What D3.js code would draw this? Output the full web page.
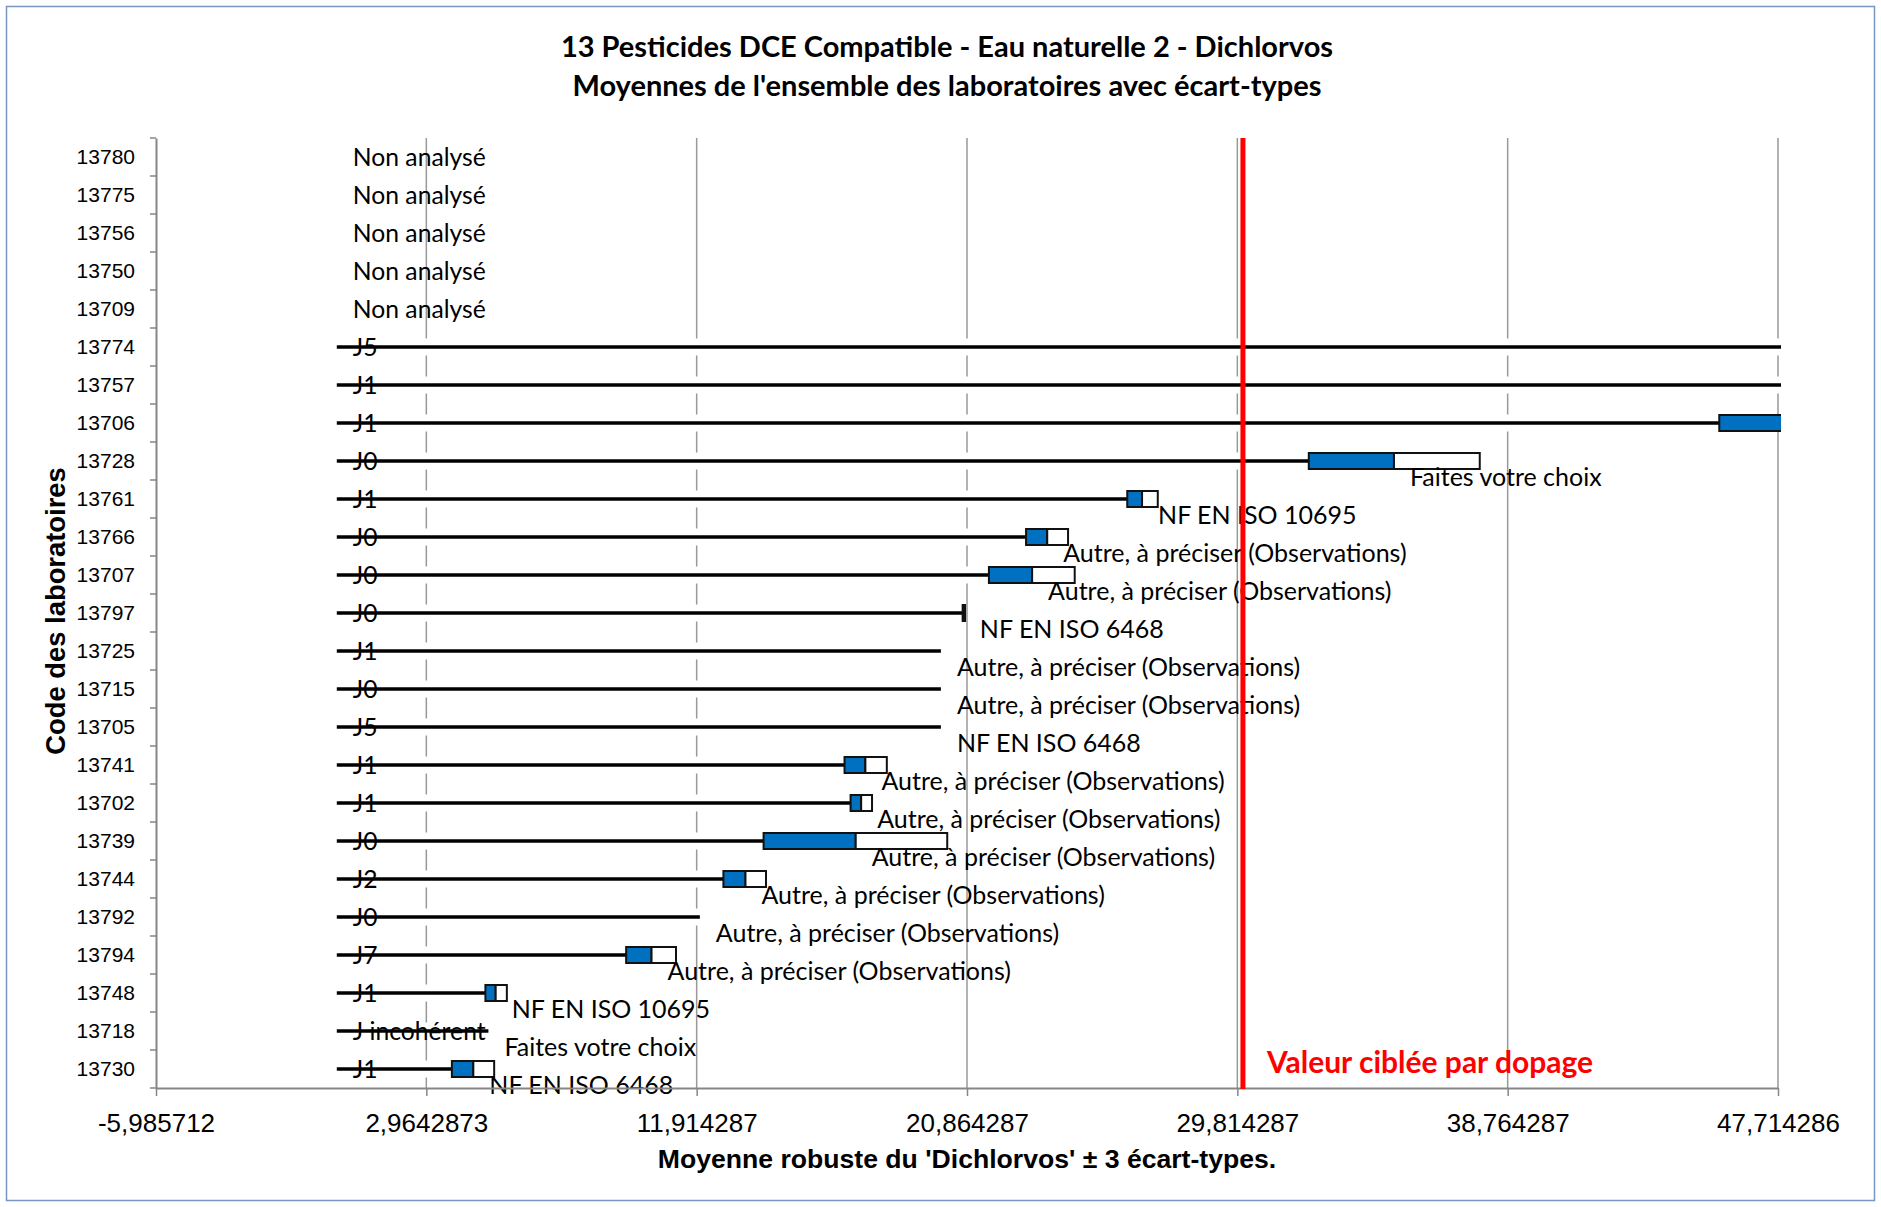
<!DOCTYPE html>
<html>
<head>
<meta charset="utf-8">
<script src="https://cdn.jsdelivr.net/npm/d3@7"></script>
<style>
  html, body { margin: 0; padding: 0; background: #fff; }
  svg { display: block; }
</style>
</head>
<body>
<svg id="chart" width="1881" height="1207"></svg>
<script>
// Laboratory codes, top to bottom
const labs = ["13780","13775","13756","13750","13709","13774","13757","13706","13728","13761",
  "13766","13707","13797","13725","13715","13705","13741","13702","13739","13744",
  "13792","13794","13748","13718","13730"];

// Status flag written at the start of each row
const flags = ["Non analysé","Non analysé","Non analysé","Non analysé","Non analysé",
  "J5","J1","J1","J0","J1","J0","J0","J0","J1","J0","J5","J1","J1","J0","J2",
  "J0","J7","J1","J incohérent","J1"];

// Analytical method declared by each laboratory
const methods = ["","","","","","","","",
  "Faites votre choix","NF EN ISO 10695",
  "Autre, à préciser (Observations)","Autre, à préciser (Observations)",
  "NF EN ISO 6468","Autre, à préciser (Observations)","Autre, à préciser (Observations)",
  "NF EN ISO 6468","Autre, à préciser (Observations)","Autre, à préciser (Observations)",
  "Autre, à préciser (Observations)","Autre, à préciser (Observations)",
  "Autre, à préciser (Observations)","Autre, à préciser (Observations)",
  "NF EN ISO 10695","Faites votre choix","NF EN ISO 6468"];

// Lower bound, mean and upper bound per laboratory (null = not analysed)
const lows  = [null,null,null,null,null, 60.2,54.9,45.77,32.18,26.17,22.82,21.59,20.72,20.0,20.0,20.0,
  16.81,17.01,14.13,12.80,12.02,9.58,4.92,5.02,3.81];
const means = [null,null,null,null,null, 60.2,54.9,49.60,35.00,26.66,23.52,23.02,20.76,20.0,20.0,20.0,
  17.50,17.36,17.18,13.53,12.02,10.42,5.26,5.02,4.52];
const highs = [null,null,null,null,null, 60.2,54.9,53.40,37.84,27.18,24.21,24.43,20.80,20.0,20.0,20.0,
  18.21,17.72,20.21,14.21,12.02,11.23,5.63,5.02,5.21];

// Axis ticks
const xTickValues = [-5.985712, 2.9642873, 11.914287, 20.864287, 29.814287, 38.764287, 47.714286];
const xTickLabels = ["-5,985712","2,9642873","11,914287","20,864287","29,814287","38,764287","47,714286"];

// Spiked (target) value and start of the range lines
const targetValue = 30;
const lineOrigin = 0;

const rows = labs.map((lab, i) => ({
  lab, flag: flags[i], method: methods[i], low: lows[i], mean: means[i], high: highs[i]
}));

const svg = d3.select("#chart");
const W = 1881, H = 1207;
const plot = { left: 156, right: 1778, top: 138, bottom: 1088 };

const CAL = "Lato, 'Open Sans', sans-serif";
const ARIAL = "'Liberation Sans', Arial, sans-serif";

// Chart frame
svg.append("rect")
  .attr("x", 6.5).attr("y", 6.5).attr("width", W - 13).attr("height", H - 13)
  .attr("fill", "#fff").attr("stroke", "#7895c4").attr("stroke-width", 1.5);

const x = d3.scaleLinear()
  .domain([xTickValues[0], xTickValues[xTickValues.length - 1]])
  .range([plot.left, plot.right]);

const y = d3.scaleBand().domain(labs).range([plot.top, plot.bottom]).padding(0);
const yc = d => y(d) + y.bandwidth() / 2;

svg.append("defs").append("clipPath").attr("id", "plotClip")
  .append("rect")
  .attr("x", plot.left).attr("y", plot.top - 2)
  .attr("width", plot.right - plot.left + 3).attr("height", plot.bottom - plot.top + 4);

// Vertical gridlines
svg.append("g").selectAll("line")
  .data(xTickValues.slice(1))
  .join("line")
  .attr("x1", d => x(d)).attr("x2", d => x(d))
  .attr("y1", plot.top).attr("y2", plot.bottom)
  .attr("stroke", "#999").attr("stroke-width", 1.5);

const marks = svg.append("g").attr("clip-path", "url(#plotClip)");
const measured = rows.filter(r => r.low !== null);

// Hidden base segment (white) from the origin to the lower bound
marks.selectAll("rect.base")
  .data(measured)
  .join("rect").attr("class", "base")
  .attr("x", x(lineOrigin))
  .attr("y", d => yc(d.lab) - 8.5)
  .attr("width", d => Math.max(0, x(d.low) - x(lineOrigin)))
  .attr("height", 17)
  .attr("fill", "#fff");

// Black range line
marks.selectAll("line.range")
  .data(measured)
  .join("line").attr("class", "range")
  .attr("x1", x(lineOrigin)).attr("x2", d => x(d.low))
  .attr("y1", d => yc(d.lab)).attr("y2", d => yc(d.lab))
  .attr("stroke", "#000").attr("stroke-width", 3.6);

const boxed = measured.filter(r => r.high > r.low);

// Blue part: lower bound to mean
marks.selectAll("rect.lowbox")
  .data(boxed)
  .join("rect").attr("class", "lowbox")
  .attr("x", d => x(d.low))
  .attr("y", d => yc(d.lab) - 8)
  .attr("width", d => x(d.mean) - x(d.low))
  .attr("height", 16)
  .attr("fill", "#0070c0").attr("stroke", "#111").attr("stroke-width", 2);

// White part: mean to upper bound
marks.selectAll("rect.highbox")
  .data(boxed)
  .join("rect").attr("class", "highbox")
  .attr("x", d => x(d.mean))
  .attr("y", d => yc(d.lab) - 8)
  .attr("width", d => x(d.high) - x(d.mean))
  .attr("height", 16)
  .attr("fill", "#fff").attr("stroke", "#111").attr("stroke-width", 2);

// Status flags (J0, J1 … / Non analysé)
svg.append("g").selectAll("text")
  .data(rows)
  .join("text")
  .attr("x", x(lineOrigin) + 16)
  .attr("y", d => yc(d.lab) + 8.5)
  .attr("font-family", CAL).attr("font-size", 24.7)
  .attr("fill", "#000")
  .text(d => d.flag);

// Method labels, placed just past the mean
svg.append("g").selectAll("text")
  .data(measured.filter(r => r.method))
  .join("text")
  .attr("x", d => x(d.mean) + 16)
  .attr("y", d => yc(d.lab) + 25)
  .attr("font-family", CAL).attr("font-size", 25)
  .attr("fill", "#000")
  .text(d => d.method);

// Axes
const xAxis = d3.axisBottom(x)
  .tickValues(xTickValues)
  .tickFormat((d, i) => xTickLabels[i])
  .tickSize(8).tickSizeOuter(0);
const gx = svg.append("g").attr("transform", `translate(0,${plot.bottom})`).call(xAxis);
gx.select(".domain").attr("stroke", "#868686").attr("stroke-width", 2);
gx.selectAll(".tick line").attr("stroke", "#868686").attr("stroke-width", 1.5);
gx.selectAll(".tick text")
  .attr("font-family", ARIAL).attr("font-size", 26).attr("fill", "#000")
  .attr("dy", null).attr("y", 44);

const yAxis = d3.axisLeft(y).tickSize(0).tickPadding(21);
const gy = svg.append("g").attr("transform", `translate(${plot.left},0)`).call(yAxis);
gy.select(".domain").attr("stroke", "#868686").attr("stroke-width", 2);
gy.selectAll(".tick text")
  .attr("font-family", ARIAL).attr("font-size", 21).attr("fill", "#000");
// Tick marks between categories
gy.selectAll("line.sep")
  .data(labs.concat([null]))
  .join("line").attr("class", "sep")
  .attr("x1", -6).attr("x2", 0)
  .attr("y1", (d, i) => plot.top + i * y.step())
  .attr("y2", (d, i) => plot.top + i * y.step())
  .attr("stroke", "#868686").attr("stroke-width", 1.5);

// Spiked value line
svg.append("line")
  .attr("x1", x(targetValue)).attr("x2", x(targetValue))
  .attr("y1", plot.top).attr("y2", plot.bottom + 1)
  .attr("stroke", "#ff0000").attr("stroke-width", 5);

svg.append("text")
  .attr("x", x(targetValue) + 24).attr("y", plot.bottom - 15)
  .attr("font-family", CAL).attr("font-weight", 700).attr("font-size", 30)
  .attr("fill", "#ff0000")
  .text("Valeur ciblée par dopage");

// Titles
const title = svg.append("text")
  .attr("x", 947).attr("text-anchor", "middle")
  .attr("font-family", CAL).attr("font-weight", 700).attr("font-size", 29).attr("fill", "#000");
title.append("tspan").attr("x", 947).attr("y", 57)
  .text("13 Pesticides DCE Compatible - Eau naturelle 2 - Dichlorvos");
title.append("tspan").attr("x", 947).attr("y", 96)
  .text("Moyennes de l'ensemble des laboratoires avec écart-types");

svg.append("text")
  .attr("x", (plot.left + plot.right) / 2).attr("y", 1168)
  .attr("text-anchor", "middle")
  .attr("font-family", ARIAL).attr("font-weight", 700).attr("font-size", 26.6).attr("fill", "#000")
  .text("Moyenne robuste du 'Dichlorvos' ± 3 écart-types.");

svg.append("text")
  .attr("transform", `translate(65,${(plot.top + plot.bottom) / 2 - 2}) rotate(-90)`)
  .attr("text-anchor", "middle")
  .attr("font-family", ARIAL).attr("font-weight", 700).attr("font-size", 27.4).attr("fill", "#000")
  .text("Code des laboratoires");
</script>
</body>
</html>
